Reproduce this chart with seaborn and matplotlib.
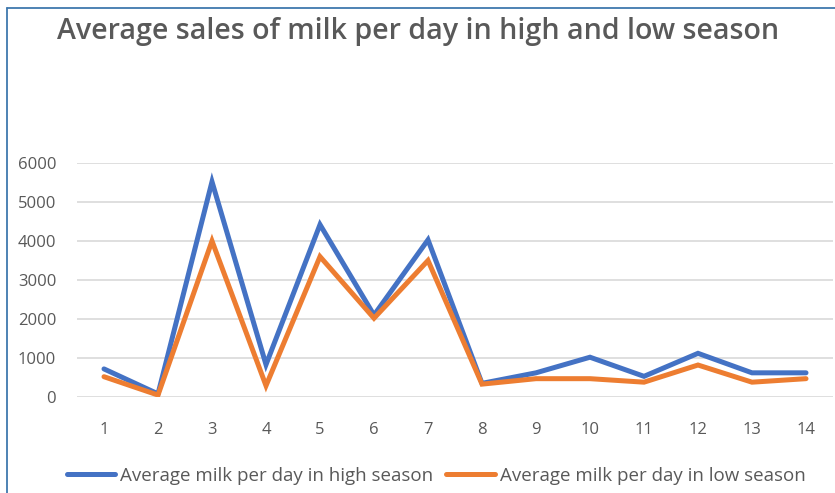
import matplotlib
matplotlib.use("Agg")
import matplotlib.pyplot as plt
from matplotlib.lines import Line2D
import seaborn as sns
import pandas as pd

days = list(range(1, 15))
high_season = [720, 80, 5520, 830, 4420, 2100, 4030, 350, 620, 1020, 530, 1120, 620, 620]
low_season = [520, 50, 4000, 290, 3600, 2020, 3500, 330, 470, 470, 380, 820, 380, 470]
series_names = ["Average milk per day in high season", "Average milk per day in low season"]
y_ticks = [0, 1000, 2000, 3000, 4000, 5000, 6000]

df = pd.DataFrame({
    "day": days * 2,
    "milk": high_season + low_season,
    "series": [series_names[0]] * len(days) + [series_names[1]] * len(days),
})

sns.set_theme(style="white")
plt.rcParams["font.family"] = ["Open Sans", "DejaVu Sans"]

fig = plt.figure(figsize=(8.35, 4.93), dpi=100)
W, H = 835, 493
ax = fig.add_axes([77 / W, 1 - 397 / H, (833 - 77) / W, (397 - 163) / H])

palette = {series_names[0]: "#4472C4", series_names[1]: "#ED7D31"}
sns.lineplot(data=df, x="day", y="milk", hue="series", palette=palette,
             linewidth=3.6, ax=ax, legend=False, solid_joinstyle="miter")

ax.set_xlim(0.5, 14.5)
ax.set_ylim(0, 6000)
ax.set_yticks(y_ticks)
ax.set_xticks(days)
ax.set_xticklabels([str(d) for d in days])
ax.set_xlabel("")
ax.set_ylabel("")
ax.grid(axis="y", color="#D9D9D9", linewidth=1.2)
ax.grid(axis="x", visible=False)
ax.set_axisbelow(True)
for s in ax.spines.values():
    s.set_visible(False)
ax.tick_params(axis="both", length=0, colors="#595959", labelsize=12)
ax.tick_params(axis="x", pad=18)
ax.tick_params(axis="y", pad=15)

fig.text(418 / W, 1 - 32 / H, "Average sales of milk per day in high and low season",
         ha="center", va="center", fontsize=20.6, fontweight="semibold", color="#595959")

handles = [Line2D([0], [0], color=palette[n], linewidth=3.6) for n in series_names]
leg = fig.legend(handles, series_names, loc="center", bbox_to_anchor=(436 / W, 1 - 476 / H),
                 ncol=2, frameon=False, fontsize=13.5, handlelength=2.6, handletextpad=0.25,
                 columnspacing=0.7)
for t in leg.get_texts():
    t.set_color("#595959")

# chart frame edges
fig.add_artist(Line2D([6.5 / W, 6.5 / W], [0, 1 - 7.5 / H], color="#3F78AE", linewidth=1.3))
fig.add_artist(Line2D([6.5 / W, 1], [1 - 7.5 / H, 1 - 7.5 / H], color="#3F78AE", linewidth=1.3))

fig.savefig("out.png", dpi=100)
